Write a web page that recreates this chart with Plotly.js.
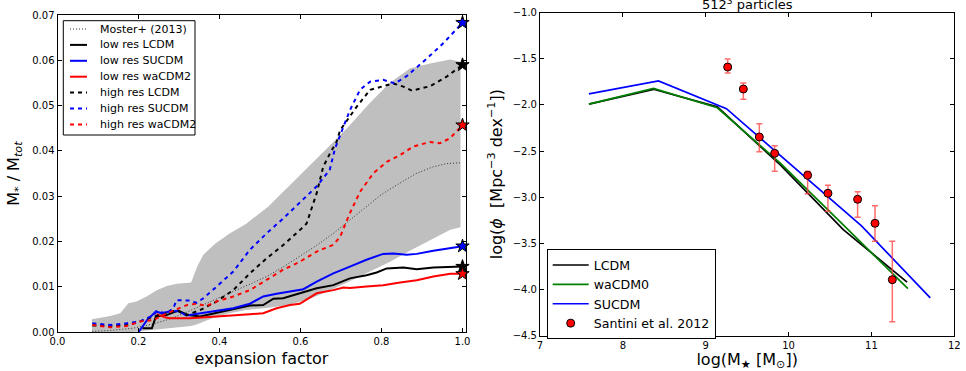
<!DOCTYPE html>
<html>
<head>
<meta charset="utf-8">
<script src="https://cdn.plot.ly/plotly-3.0.1.min.js"></script>
<style>html,body{margin:0;padding:0;background:#fff;}#chart{width:966px;height:371px;}</style>
</head>
<body>
<div id="chart"></div>
<script>
// ---------- Left panel data: stellar-to-total mass vs expansion factor ----------
const bandX    = [0.085, 0.13, 0.155, 0.175, 0.195, 0.22, 0.245, 0.27, 0.295, 0.33, 0.345, 0.36, 0.39, 0.425, 0.465, 0.52, 0.57, 0.62, 0.67, 0.72, 0.77, 0.82, 0.87, 0.92, 0.97, 0.995];
const bandLow  = [0.0, 0.0, 0.0, 0.0, 0.0002, 0.0004, 0.0006, 0.0008, 0.001, 0.0014, 0.0018, 0.0023, 0.0034, 0.0042, 0.0049, 0.0054, 0.006, 0.0073, 0.0091, 0.0112, 0.0133, 0.0155, 0.018, 0.0203, 0.0226, 0.0232];
const bandHigh = [0.0029, 0.0036, 0.0042, 0.0064, 0.0068, 0.0079, 0.0093, 0.0102, 0.0107, 0.011, 0.0145, 0.0171, 0.0196, 0.0218, 0.0239, 0.0277, 0.0321, 0.0365, 0.041, 0.0455, 0.0505, 0.055, 0.0582, 0.0593, 0.0602, 0.0597];

const mosterX = [0.086, 0.13, 0.186, 0.23, 0.269, 0.31, 0.351, 0.39, 0.433, 0.475, 0.516, 0.557, 0.598, 0.64, 0.681, 0.72, 0.762, 0.8, 0.845, 0.885, 0.927, 0.96, 0.995];
const mosterY = [0.0002, 0.0004, 0.0009, 0.0017, 0.0027, 0.0041, 0.0057, 0.0073, 0.009, 0.0106, 0.0123, 0.0144, 0.0167, 0.0192, 0.0218, 0.0246, 0.0277, 0.0304, 0.0329, 0.035, 0.0365, 0.0372, 0.0374];

const lowLcdmX = [0.21, 0.233, 0.243, 0.269, 0.298, 0.323, 0.352, 0.393, 0.434, 0.475, 0.508, 0.533, 0.557, 0.598, 0.64, 0.681, 0.722, 0.763, 0.788, 0.813, 0.854, 0.887, 0.928, 1.0];
const lowLcdmY = [0.0009, 0.0009, 0.0035, 0.0038, 0.0048, 0.0038, 0.0035, 0.0043, 0.0051, 0.0059, 0.006, 0.0074, 0.0075, 0.0086, 0.0097, 0.0104, 0.0119, 0.0126, 0.0132, 0.0141, 0.0143, 0.0139, 0.0143, 0.0145];

const lowSucdmX = [0.2, 0.221, 0.243, 0.257, 0.277, 0.298, 0.318, 0.352, 0.393, 0.434, 0.475, 0.508, 0.541, 0.574, 0.607, 0.64, 0.681, 0.722, 0.763, 0.804, 0.829, 0.862, 0.887, 0.928, 1.0];
const lowSucdmY = [0.0, 0.0027, 0.0046, 0.0042, 0.0046, 0.0047, 0.0037, 0.0042, 0.0048, 0.0053, 0.0063, 0.0079, 0.0085, 0.009, 0.0095, 0.0112, 0.013, 0.0145, 0.016, 0.0173, 0.0174, 0.0171, 0.0173, 0.018, 0.019];

const lowWaX = [0.245, 0.265, 0.277, 0.327, 0.393, 0.442, 0.475, 0.508, 0.541, 0.574, 0.598, 0.64, 0.681, 0.706, 0.722, 0.763, 0.804, 0.846, 0.887, 0.928, 0.97, 1.0];
const lowWaY = [0.004, 0.0033, 0.0031, 0.0031, 0.0035, 0.0037, 0.004, 0.0042, 0.0053, 0.006, 0.0063, 0.0086, 0.0093, 0.0099, 0.0098, 0.0101, 0.0104, 0.011, 0.0115, 0.0123, 0.0129, 0.0129];

const highLcdmX = [0.086, 0.13, 0.171, 0.204, 0.237, 0.27, 0.294, 0.319, 0.352, 0.393, 0.434, 0.475, 0.516, 0.558, 0.599, 0.615, 0.64, 0.656, 0.673, 0.689, 0.698, 0.739, 0.772, 0.829, 0.854, 0.875, 0.92, 0.961, 1.0];
const highLcdmY = [0.0015, 0.0014, 0.0016, 0.0024, 0.0035, 0.0042, 0.0049, 0.0038, 0.0049, 0.0068, 0.0093, 0.013, 0.0163, 0.0193, 0.0226, 0.024, 0.0307, 0.0365, 0.0395, 0.042, 0.0446, 0.0498, 0.0535, 0.0549, 0.0542, 0.0533, 0.0543, 0.0564, 0.059];

const highSucdmX = [0.086, 0.13, 0.171, 0.204, 0.237, 0.245, 0.27, 0.286, 0.294, 0.327, 0.343, 0.36, 0.393, 0.434, 0.475, 0.516, 0.557, 0.598, 0.639, 0.672, 0.685, 0.722, 0.747, 0.772, 0.804, 0.833, 0.862, 0.912, 0.953, 1.0];
const highSucdmY = [0.002, 0.0016, 0.002, 0.0024, 0.0038, 0.0046, 0.0042, 0.0053, 0.0071, 0.007, 0.0065, 0.0075, 0.0101, 0.0134, 0.0182, 0.0218, 0.0251, 0.0285, 0.0321, 0.0358, 0.0405, 0.049, 0.0535, 0.0553, 0.0557, 0.0549, 0.0565, 0.0604, 0.0638, 0.0683];

const highWaX = [0.086, 0.13, 0.171, 0.204, 0.237, 0.261, 0.294, 0.319, 0.344, 0.368, 0.393, 0.434, 0.475, 0.516, 0.557, 0.599, 0.64, 0.681, 0.698, 0.722, 0.747, 0.78, 0.813, 0.846, 0.879, 0.92, 0.944, 0.969, 1.0];
const highWaY = [0.0016, 0.0011, 0.0014, 0.0024, 0.0027, 0.0038, 0.0051, 0.006, 0.0063, 0.0058, 0.0068, 0.0079, 0.0093, 0.0115, 0.0138, 0.0156, 0.0178, 0.0193, 0.0211, 0.0263, 0.031, 0.0351, 0.0376, 0.0391, 0.041, 0.042, 0.0417, 0.0428, 0.0457];

const leftXTicks = [0.0, 0.2, 0.4, 0.6, 0.8, 1.0];
const leftYTicks = [0.00, 0.01, 0.02, 0.03, 0.04, 0.05, 0.06, 0.07];

// ---------- Right panel data: stellar mass function ----------
const lcdmX = [7.59, 8.37, 9.14, 9.90, 10.66, 11.43];
const lcdmY = [-1.99, -1.83, -2.02, -2.65, -3.35, -3.92];
const wa0X  = [7.59, 8.37, 9.14, 9.90, 10.66, 11.44];
const wa0Y  = [-1.99, -1.82, -2.03, -2.63, -3.30, -3.99];
const sucdmX = [7.59, 8.43, 9.25, 10.07, 10.88, 11.71];
const sucdmY = [-1.88, -1.74, -2.04, -2.68, -3.31, -4.09];

const santiniX = [9.265, 9.454, 9.647, 9.832, 10.23, 10.475, 10.833, 11.043, 11.252];
const santiniY = [-1.589, -1.827, -2.347, -2.524, -2.762, -2.957, -3.022, -3.282, -3.893];
const santiniErrUp   = [0.087, 0.065, 0.144, 0.083, 0.043, 0.086, 0.083, 0.191, 0.416];
const santiniErrDown = [0.065, 0.112, 0.159, 0.195, 0.199, 0.195, 0.195, 0.195, 0.455];

const rightXTicks = [7, 8, 9, 10, 11, 12];
const rightYTicks = [-4.5, -4.0, -3.5, -3.0, -2.5, -2.0, -1.5, -1.0];

// ---------- Build traces ----------
const FONT = 'DejaVu Sans, Verdana, sans-serif';
const last = a => a[a.length - 1];
const DASH = '4px,4px';
const W = 966, H = 371;
const px = v => v / W, py = v => 1 - v / H;

const traces = [];
// grey band (polygon from the low / high bounds)
traces.push({
  x: bandX.concat(bandX.slice().reverse()),
  y: bandLow.concat(bandHigh.slice().reverse()),
  xaxis: 'x', yaxis: 'y', type: 'scatter', mode: 'lines',
  fill: 'toself', fillcolor: 'rgb(191,191,191)', line: {width: 0, color: 'rgba(0,0,0,0)'},
  hoverinfo: 'skip', showlegend: false
});
const leftSeries = [
  {x: mosterX,    y: mosterY,    name: 'Moster+ (2013)',  color: '#333333', dash: '1px,2px', width: 1},
  {x: lowLcdmX,   y: lowLcdmY,   name: 'low res LCDM',    color: '#000000', dash: 'solid', width: 2},
  {x: lowSucdmX,  y: lowSucdmY,  name: 'low res SUCDM',   color: '#0000ff', dash: 'solid', width: 2},
  {x: lowWaX,     y: lowWaY,     name: 'low res waCDM2',  color: '#ff0000', dash: 'solid', width: 2},
  {x: highLcdmX,  y: highLcdmY,  name: 'high res LCDM',   color: '#000000', dash: DASH, width: 2},
  {x: highSucdmX, y: highSucdmY, name: 'high res SUCDM',  color: '#0000ff', dash: DASH, width: 2},
  {x: highWaX,    y: highWaY,    name: 'high res waCDM2', color: '#ff0000', dash: DASH, width: 2}
];
leftSeries.forEach(s => traces.push({
  x: s.x, y: s.y, name: s.name, xaxis: 'x', yaxis: 'y', type: 'scatter', mode: 'lines',
  line: {color: s.color, width: s.width, dash: s.dash}, showlegend: false
}));
// end-point stars (all simulated series)
const starSeries = leftSeries.slice(1);
traces.push({
  x: starSeries.map(s => last(s.x)), y: starSeries.map(s => last(s.y)),
  xaxis: 'x', yaxis: 'y', type: 'scatter', mode: 'markers', showlegend: false, cliponaxis: false,
  marker: {symbol: 'star', size: 10, color: starSeries.map(s => s.color), line: {color: '#000000', width: 1}}
});

function rightLine(x, y, name, color) {
  return {x: x, y: y, name: name, xaxis: 'x2', yaxis: 'y2', type: 'scatter', mode: 'lines',
          line: {color: color, width: 1.7}, legend: 'legend2'};
}
traces.push(rightLine(lcdmX, lcdmY, 'LCDM', '#000000'));
traces.push(rightLine(wa0X, wa0Y, 'waCDM0', '#008000'));
traces.push(rightLine(sucdmX, sucdmY, 'SUCDM', '#0000ff'));
traces.push({
  x: santiniX, y: santiniY, name: 'Santini et al. 2012', xaxis: 'x2', yaxis: 'y2',
  type: 'scatter', mode: 'markers', legend: 'legend2',
  marker: {color: '#ff0000', size: 8, line: {color: '#000000', width: 1}},
  error_y: {type: 'data', symmetric: false, array: santiniErrUp, arrayminus: santiniErrDown,
            color: 'rgba(255,60,60,0.75)', thickness: 1.5, width: 3}
});

// ---------- Left legend (compact, matplotlib-like) ----------
const shapes = [];
const annotations = [];
const legTop = 20.7, legLeft = 63.3, legRight = 195, legBottom = 135;
shapes.push({type: 'rect', xref: 'paper', yref: 'paper', x0: px(legLeft), x1: px(legRight),
             y0: py(legBottom), y1: py(legTop), line: {color: '#000', width: 1}, fillcolor: '#fff', layer: 'above'});
leftSeries.forEach((s, i) => {
  const yc = 29 + i * 15.9;
  shapes.push({type: 'line', xref: 'paper', yref: 'paper', x0: px(70), x1: px(87), y0: py(yc), y1: py(yc),
               line: {color: s.color, width: s.width, dash: s.dash}, layer: 'above'});
  annotations.push({text: s.name, xref: 'paper', yref: 'paper', x: px(97.5), y: py(yc),
                    xanchor: 'left', yanchor: 'middle', showarrow: false,
                    font: {family: FONT, size: 11, color: '#000'}});
});

annotations.push({
  text: '512<sup>3</sup> particles', xref: 'paper', yref: 'paper',
  x: 747 / W, y: 1 - 4.4 / H, xanchor: 'center', yanchor: 'middle',
  showarrow: false, font: {family: FONT, size: 13, color: '#000'}
});

const axisCommon = {
  showline: true, linecolor: '#000', linewidth: 1, mirror: 'ticks',
  ticks: 'inside', ticklen: 4, tickwidth: 1, tickcolor: '#000',
  showgrid: false, zeroline: false,
  tickfont: {family: FONT, size: 10, color: '#000'}
};

const layout = {
  width: W, height: H,
  margin: {l: 0, r: 0, t: 0, b: 0},
  paper_bgcolor: '#fff', plot_bgcolor: '#fff',
  font: {family: FONT, color: '#000'},
  xaxis: Object.assign({}, axisCommon, {
    domain: [57.5 / W, 465.5 / W], anchor: 'y', range: [0, 1.0074],
    tickvals: leftXTicks, tickformat: '.1f',
    title: {text: 'expansion factor', font: {family: FONT, size: 16}, standoff: 6}
  }),
  yaxis: Object.assign({}, axisCommon, {
    domain: [1 - 332.3 / H, 1 - 15 / H], anchor: 'x', range: [0, 0.07],
    tickvals: leftYTicks, tickformat: '.2f',
    title: {text: 'M<sub>*</sub> / M<sub><i>tot</i></sub>', font: {family: FONT, size: 16}, standoff: 8}
  }),
  xaxis2: Object.assign({}, axisCommon, {
    domain: [540 / W, 954.3 / W], anchor: 'y2', range: [7, 12],
    tickvals: rightXTicks,
    title: {text: 'log(M<sub>★</sub> [M<sub>⊙</sub>])', font: {family: FONT, size: 16}, standoff: 6}
  }),
  yaxis2: Object.assign({}, axisCommon, {
    domain: [1 - 335.7 / H, 1 - 12.7 / H], anchor: 'x2', range: [-4.5, -1.0],
    tickvals: rightYTicks, tickformat: '.1f',
    title: {text: 'log(<i>ϕ</i>  [Mpc<sup>−3</sup> dex<sup>−1</sup>])', font: {family: FONT, size: 16}, standoff: 6}
  }),
  legend2: {
    x: 546.7 / W, y: 1 - 249.3 / H, xanchor: 'left', yanchor: 'top',
    bgcolor: '#fff', bordercolor: '#000', borderwidth: 1, itemwidth: 36,
    font: {family: FONT, size: 12.6, color: '#000'}, tracegroupgap: 0
  },
  shapes: shapes,
  annotations: annotations
};

Plotly.newPlot('chart', traces, layout, {displayModeBar: false, staticPlot: true});
</script>
</body>
</html>
